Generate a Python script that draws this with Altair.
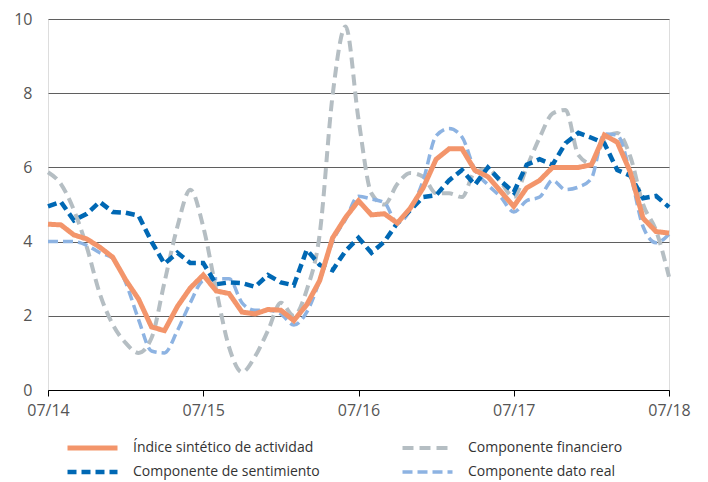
import altair as alt
import pandas as pd

# ---- data ----
months = list(range(49))  # monthly, 07/2014 .. 07/2018
tick_pos = [0, 12, 24, 36, 48]
tick_labels = ["07/14", "07/15", "07/16", "07/17", "07/18"]
y_ticks = [0, 2, 4, 6, 8, 10]

series_names = [
    "Índice sintético de actividad",
    "Componente de sentimiento",
    "Componente financiero",
    "Componente dato real",
]

indice = [4.47, 4.45, 4.18, 4.07, 3.85, 3.58, 2.97, 2.45, 1.7, 1.6, 2.25, 2.75, 3.1,
          2.67, 2.6, 2.1, 2.05, 2.17, 2.15, 1.87, 2.3, 2.95, 4.1, 4.65, 5.1,
          4.72, 4.75, 4.5, 4.9, 5.45, 6.22, 6.5, 6.5, 5.92, 5.75, 5.35, 4.95,
          5.45, 5.65, 6.0, 6.0, 6.0, 6.07, 6.87, 6.68, 5.88, 4.63, 4.27, 4.23]
sentimiento = [4.95, 5.07, 4.57, 4.75, 5.07, 4.8, 4.78, 4.7, 4.0, 3.4, 3.7, 3.42, 3.42,
               2.85, 2.9, 2.88, 2.78, 3.1, 2.9, 2.82, 3.78, 3.37, 3.23, 3.75, 4.1,
               3.7, 4.0, 4.5, 4.85, 5.2, 5.25, 5.65, 5.93, 5.53, 6.0, 5.63, 5.33,
               6.07, 6.22, 6.07, 6.65, 6.93, 6.8, 6.65, 5.93, 5.78, 5.17, 5.23, 4.93]
financiero = [5.87, 5.55, 4.85, 3.85, 2.6, 1.77, 1.27, 1.0, 1.4, 2.9, 4.4, 5.4, 4.4,
              2.7, 1.15, 0.48, 0.9, 1.6, 2.35, 2.0, 2.7, 4.2, 7.95, 9.8, 7.3,
              5.3, 5.0, 5.55, 5.85, 5.75, 5.3, 5.3, 5.2, 5.88, 5.95, 5.6, 5.2,
              6.0, 6.8, 7.45, 7.55, 6.33, 6.1, 6.75, 6.93, 6.3, 5.0, 4.3, 3.05]
dato_real = [4.0, 4.0, 4.0, 3.9, 3.7, 3.55, 2.9, 1.9, 1.05, 1.0, 1.6, 2.35, 2.95,
             3.0, 3.0, 2.35, 2.15, 2.15, 2.05, 1.75, 2.1, 2.95, 4.0, 4.6, 5.22,
             5.15, 5.05, 4.5, 4.85, 5.65, 6.85, 7.05, 6.82, 5.93, 5.53, 5.2, 4.8,
             5.1, 5.2, 5.65, 5.4, 5.47, 5.7, 6.9, 6.87, 5.85, 4.4, 3.97, 4.2]

values = {
    series_names[0]: indice,
    series_names[1]: sentimiento,
    series_names[2]: financiero,
    series_names[3]: dato_real,
}

# ---- styles ----
colors = ["#F3956B", "#0068B4", "#B5BEC3", "#8DB3E2"]
dashes = [[1, 0], [9, 5], [11, 6], [10, 5]]
widths = [5, 3.5, 3.5, 3.5]
interp = {
    series_names[0]: "linear",
    series_names[1]: "linear",
    series_names[2]: "monotone",
    series_names[3]: "monotone",
}
draw_order = [series_names[2], series_names[3], series_names[1], series_names[0]]

rows = []
for name in series_names:
    for m, v in zip(months, values[name]):
        rows.append({"mes": m, "valor": v, "serie": name})
df = pd.DataFrame(rows)

FONT = "Open Sans"
label_expr = "[" + ",".join(f"'{t}'" for t in tick_labels) + "][round(datum.value/12)]"

x_enc = alt.X(
    "mes:Q",
    scale=alt.Scale(domain=[0, 48], nice=False, zero=False),
    axis=alt.Axis(values=tick_pos, labelExpr=label_expr, title=None, grid=False,
                  domainColor="#000000", domainWidth=1, tickColor="#000000",
                  tickSize=6, tickWidth=1, labelPadding=6, labelFontSize=16,
                  labelFlush=False, labelColor="#555555", labelFont=FONT),
)
y_enc = alt.Y(
    "valor:Q",
    scale=alt.Scale(domain=[0, 10], nice=False),
    axis=alt.Axis(values=y_ticks, title=None, domain=False, ticks=False,
                  gridColor="#5f5f5f", gridWidth=1, labelPadding=16,
                  labelFontSize=16, labelColor="#555555", labelFont=FONT),
)
legend = alt.Legend(
    title=None, orient="none", legendX=17, legendY=421, columns=2,
    symbolType="stroke", symbolSize=2500, clipHeight=16,
    labelFontSize=14, labelColor="#333333", labelFont=FONT, labelOffset=13,
    labelLimit=0, columnPadding=80, rowPadding=8, padding=0,
)
color_enc = alt.Color("serie:N", scale=alt.Scale(domain=series_names, range=colors),
                      legend=legend)
dash_enc = alt.StrokeDash("serie:N", scale=alt.Scale(domain=series_names, range=dashes),
                          legend=legend)
width_enc = alt.StrokeWidth("serie:N", scale=alt.Scale(domain=series_names, range=widths),
                            legend=legend)

layers = []
for name in draw_order:
    layers.append(
        alt.Chart(df)
        .transform_filter(alt.datum.serie == name)
        .mark_line(interpolate=interp[name], strokeCap="butt")
        .encode(x=x_enc, y=y_enc, color=color_enc, strokeDash=dash_enc,
                strokeWidth=width_enc)
    )

chart = (
    alt.layer(*layers)
    .properties(width=621, height=371,
                autosize=alt.AutoSizeParams(type="none"),
                padding={"left": 40, "top": 11, "right": 31, "bottom": 90})
    .configure_view(stroke=None)
    .configure(font=FONT)
)

chart.save("out.html", embed_options={"renderer": "svg", "actions": False})
